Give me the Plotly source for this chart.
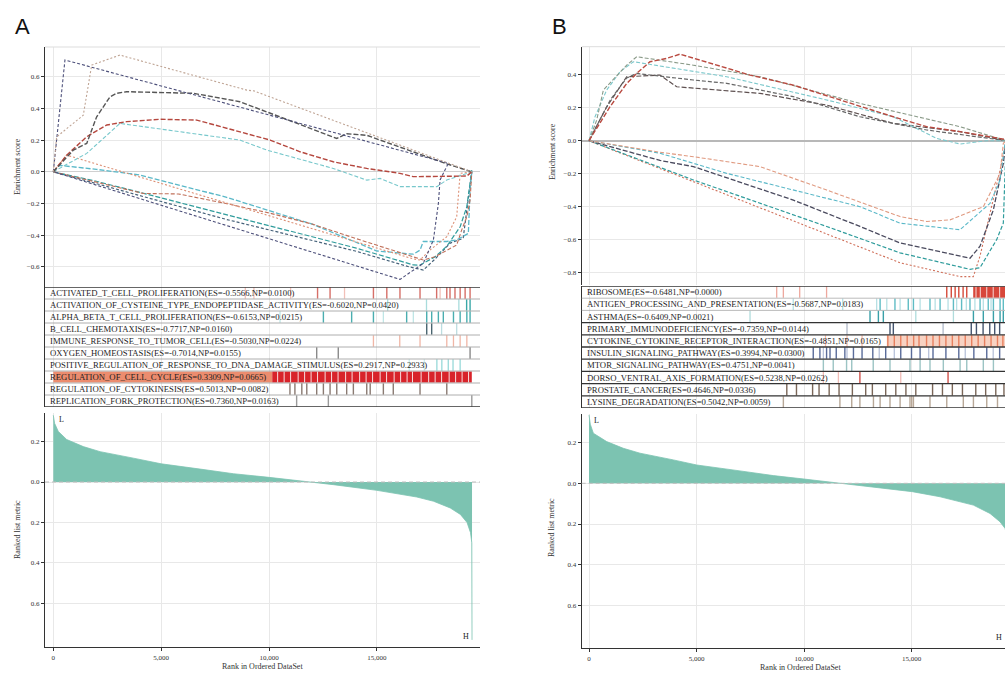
import plotly.graph_objects as go

W, H = 1005, 673
SERIF = "Liberation Serif"

# ---------------- Panel A : gene set labels ----------------
A_sets = [
    "ACTIVATED_T_CELL_PROLIFERATION(ES=-0.5566,NP=0.0100)",
    "ACTIVATION_OF_CYSTEINE_TYPE_ENDOPEPTIDASE_ACTIVITY(ES=-0.6020,NP=0.0420)",
    "ALPHA_BETA_T_CELL_PROLIFERATION(ES=-0.6153,NP=0.0215)",
    "B_CELL_CHEMOTAXIS(ES=-0.7717,NP=0.0160)",
    "IMMUNE_RESPONSE_TO_TUMOR_CELL(ES=-0.5030,NP=0.0224)",
    "OXYGEN_HOMEOSTASIS(ES=-0.7014,NP=0.0155)",
    "POSITIVE_REGULATION_OF_RESPONSE_TO_DNA_DAMAGE_STIMULUS(ES=0.2917,NP=0.2933)",
    "REGULATION_OF_CELL_CYCLE(ES=0.3309,NP=0.0665)",
    "REGULATION_OF_CYTOKINESIS(ES=0.5013,NP=0.0082)",
    "REPLICATION_FORK_PROTECTION(ES=0.7360,NP=0.0163)",
]

# ---------------- Panel A : running enrichment score curves ----------------
A_rep_x = [0, 155, 1390, 1780, 3090, 8970, 9300, 19400]
A_rep_y = [0, 0.22, 0.357, 0.673, 0.736, 0.515, 0.51, 0.0]
A_oxy_x = [0, 540, 18310, 17930, 17850, 17620, 17150, 16073, 0]
A_oxy_y = [0, 0.705, 0.053, -0.052, -0.2, -0.43, -0.578, -0.679, 0]
A_cyt_x = [0, 930, 1550, 2010, 2630, 2940, 3400, 6490, 8650, 13140, 13600, 14530, 18240, 19400]
A_cyt_y = [0, 0.137, 0.179, 0.347, 0.473, 0.495, 0.505, 0.495, 0.442, 0.21, 0.24, 0.23, 0.05, 0.0]
A_cc_x = [0, 620, 1550, 2480, 3400, 4950, 6650, 8350, 10050, 11440, 12980, 14530, 16070, 16690, 19170, 19400]
A_cc_y = [0, 0.105, 0.221, 0.295, 0.316, 0.331, 0.326, 0.263, 0.2, 0.126, 0.063, 0.021, -0.01, -0.031, -0.027, 0]
A_pos_x = [0, 1550, 3090, 4790, 8650, 9890, 12980, 14530, 15150, 16070, 16690, 17780, 18240, 19400]
A_pos_y = [0, 0.116, 0.305, 0.274, 0.2, 0.137, 0.021, -0.053, -0.042, -0.094, -0.094, -0.094, -0.052, 0]
A_act_x = [0, 620, 16690, 17000, 17460, 18240, 18700, 18860, 19400]
A_act_y = [0, 0.105, -0.55, -0.557, -0.494, -0.41, -0.284, -0.01, 0]
A_imm_x = [0, 2500, 4170, 5800, 8000, 10000, 12000, 14000, 15800, 16690, 17150, 17700, 18240, 18700, 18930, 19170, 19320, 19400]
A_imm_y = [0, -0.08, -0.137, -0.14, -0.2, -0.26, -0.33, -0.42, -0.5, -0.54, -0.557, -0.536, -0.494, -0.462, -0.368, -0.284, -0.18, 0]
A_alp_x = [0, 300, 2000, 4000, 8000, 12000, 15000, 16690, 17000, 17150, 18240, 18700, 19240, 19320, 19400]
A_alp_y = [0, 0.04, 0.015, -0.02, -0.16, -0.33, -0.5, -0.52, -0.494, -0.44, -0.44, -0.43, -0.389, -0.115, 0]
A_cys_x = [0, 2000, 6000, 10000, 14000, 16000, 16690, 17000, 17700, 18240, 18860, 19170, 19400]
A_cys_y = [0, -0.06, -0.2, -0.34, -0.48, -0.56, -0.588, -0.589, -0.536, -0.47, -0.347, -0.22, 0.01]
A_bce_x = [0, 8000, 14000, 16500, 17154, 17700, 18400, 19000, 19400]
A_bce_y = [0, -0.3, -0.5, -0.6, -0.62, -0.55, -0.45, -0.42, 0]

# ---------------- Panel A : hits ----------------
A_hit_strong = [
    [12250, 12830, 14840, 15460, 16070, 17000, 17770, 18240, 18390, 18620, 18860, 19090, 19320],
    [19160, 19320],
    [12520, 13830, 14840, 16380, 17310, 17540, 17850, 18080, 18550, 18860, 19170, 19320],
    [17310, 17540],
    [],
    [12210, 13210, 19320],
    [17780, 18010, 18310, 18530, 18860],
    [],
    [10970, 11200, 11520, 11750, 12210, 12520, 12830, 13140, 13600, 13910, 14530, 14690, 15300, 15760, 17000, 18240],
    [11280, 12750, 19400],
]
A_hit_faint = [
    [8900, 9300, 11000, 13500, 17930],
    [15500, 17300, 18800],
    [10510, 15300, 16690],
    [18000, 18700],
    [14840, 16060, 17000, 18240, 18550, 18860, 19170],
    [],
    [16500, 17200],
    [],
    [],
    [],
]
A_strong_col = ["#d66f68", "#3aa8a8", "#4aaeb0", "#4a6570", "#eda898", "#8a8a8a",
                "#9fdcdc", "#d7191c", "#8a7a72", "#9a9a9a"]
A_faint_col = ["#f2c0b8", "#a8dcdc", "#bfe6e6", "#bcdde0", "#f0b6a6", "#cccccc",
               "#cdeeee", "#d7191c", "#c8bcb6", "#cccccc"]
A_band_edges = [0, 10150, 19400]           # REGULATION_OF_CELL_CYCLE heat band
A_band_cols = ["#ec8c6e", "#d8232a"]
A_band_gaps = [10400, 10700, 11000, 11350, 11650, 11950, 12250, 12600, 12900, 13200, 13550,
               13850, 14200, 14500, 14800, 15150, 15450, 15800, 16100, 16400, 16650, 17050,
               17400, 17700, 18000, 18350, 18650, 18950, 19250]

# ---------------- Panel A : ranked list metric ----------------
A_rank = [0, 60, 230, 620, 1390, 2170, 3710, 5000, 6800, 8350, 10000, 12060, 12990, 15000,
          16850, 17630, 18400, 18870, 19180, 19340, 19400, 19410]
A_metric = [0.33, 0.29, 0.25, 0.21, 0.175, 0.15, 0.118, 0.09, 0.064, 0.041, 0.023, 0.0, -0.013,
            -0.041, -0.074, -0.095, -0.128, -0.16, -0.2, -0.25, -0.3, -0.78]

# ---------------- Panel B : gene set labels ----------------
B_sets = [
    "RIBOSOME(ES=-0.6481,NP=0.0000)",
    "ANTIGEN_PROCESSING_AND_PRESENTATION(ES=-0.5687,NP=0.0183)",
    "ASTHMA(ES=-0.6409,NP=0.0021)",
    "PRIMARY_IMMUNODEFICIENCY(ES=-0.7359,NP=0.0144)",
    "CYTOKINE_CYTOKINE_RECEPTOR_INTERACTION(ES=-0.4851,NP=0.0165)",
    "INSULIN_SIGNALING_PATHWAY(ES=0.3994,NP=0.0300)",
    "MTOR_SIGNALING_PATHWAY(ES=0.4751,NP=0.0041)",
    "DORSO_VENTRAL_AXIS_FORMATION(ES=0.5238,NP=0.0262)",
    "PROSTATE_CANCER(ES=0.4646,NP=0.0336)",
    "LYSINE_DEGRADATION(ES=0.5042,NP=0.0059)",
]

# ---------------- Panel B : running enrichment score curves ----------------
B_dor_x = [0, 977, 1752, 2217, 2837, 3612, 4233, 7488, 9503, 12605, 14155, 15705, 17256, 19349, 19400]
B_dor_y = [0, 0.206, 0.347, 0.408, 0.479, 0.499, 0.525, 0.398, 0.337, 0.206, 0.145, 0.085, 0.055, 0.008, 0]
B_mto_x = [0, 357, 667, 1752, 2217, 4853, 7953, 12605, 17256, 19400]
B_mto_y = [0, 0.125, 0.307, 0.458, 0.509, 0.458, 0.388, 0.226, 0.085, 0]
B_lys_x = [0, 279, 822, 1442, 2062, 6403, 11055, 14155, 16170, 17256, 18500, 19400]
B_lys_y = [0, 0.145, 0.307, 0.418, 0.479, 0.388, 0.247, 0.145, 0.014, -0.02, 0.0, 0]
B_pro_x = [0, 1000, 1752, 2217, 4853, 6403, 9503, 12605, 15705, 19400]
B_pro_y = [0, 0.25, 0.38, 0.408, 0.368, 0.348, 0.267, 0.145, 0.065, 0]
B_ins_x = [0, 800, 1752, 3302, 4078, 7953, 11055, 14155, 17256, 19400]
B_ins_y = [0, 0.2, 0.388, 0.398, 0.327, 0.287, 0.216, 0.105, 0.055, 0]
B_cyk_x = [0, 3302, 4853, 7953, 11055, 14465, 15705, 16791, 18341, 18806, 19116, 19271, 19400]
B_cyk_y = [0, -0.07, -0.097, -0.157, -0.299, -0.46, -0.49, -0.48, -0.4, -0.28, -0.2, -0.016, 0]
B_ant_x = [0, 3302, 6403, 9503, 12605, 14465, 17256, 18651, 19116, 19349, 19400]
B_ant_y = [0, -0.076, -0.198, -0.299, -0.4, -0.5, -0.54, -0.38, -0.24, -0.016, 0]
B_rib_x = [0, 3302, 4853, 9503, 12605, 14465, 17721, 18186, 18806, 19271, 19400]
B_rib_y = [0, -0.12, -0.157, -0.36, -0.52, -0.62, -0.713, -0.64, -0.42, -0.137, 0]
B_ast_x = [0, 4853, 11055, 14465, 17721, 18186, 18961, 19271, 19400]
B_ast_y = [0, -0.238, -0.52, -0.68, -0.78, -0.77, -0.6, -0.5, 0]
B_pri_x = [0, 14465, 17256, 17876, 18186, 18651, 19116, 19400]
B_pri_y = [0, -0.74, -0.824, -0.824, -0.7, -0.44, -0.18, 0]

# ---------------- Panel B : hits ----------------
B_hit_strong = [
    [16640, 16850, 17030, 17200, 17400, 17570],
    [13540, 14230, 14850, 15090, 15860, 16330, 16950, 17330, 17720, 18190, 18570, 18810, 19120, 19270],
    [13070, 13460, 13690, 17880, 18340, 18810, 19120, 19270],
    [14000, 14155, 17780, 18020, 18330, 18640, 18870, 19100],
    [13900, 14200, 14500, 14800, 15100, 15350, 15700, 16000, 16300, 16600, 16900, 17200,
     17500, 17800, 18100, 18400, 18700, 19000, 19250],
    [10430, 10740, 11050, 11210, 11500, 11900, 12300, 12700, 13200, 13800, 14500, 15000,
     15400, 16000, 16600, 17200, 17900, 18500, 19100],
    [10900, 11360, 11980, 12220, 13220, 14000, 14930, 15400, 15860, 16480, 17260, 17570, 18340, 18810],
    [12600, 16700],
    [9200, 9650, 10400, 10700, 11170, 11630, 12250, 12870, 13180, 13800, 14270, 14740, 15200,
     15980, 16440, 16900, 17370, 17990, 18450, 18920, 19300],
    [9040, 11670, 12220, 12600, 13230, 13540, 14000, 14470, 14930, 15010, 15090, 15860, 16640,
     17410, 17880, 18500, 19000],
]
B_hit_faint = [
    [8730, 9040, 9800, 11050],
    [9500, 11800, 13380, 13850, 14470, 15400, 16100, 16700, 17100, 17550, 17950, 18340, 18700],
    [7490, 15200, 16950],
    [12000, 16470],
    [11000, 12000, 12700],
    [10900, 12000, 13500, 14200, 15800, 17500, 18800],
    [],
    [10900, 11600, 14500],
    [],
    [],
]
B_strong_col = ["#d64a3a", "#5fbcc4", "#3aa0a8", "#44546e", "#e8805f", "#5a6c9a",
                "#9cc4c4", "#d0504a", "#7a6658", "#b8a898"]
B_faint_col = ["#eea89e", "#b6e0e4", "#b0dcdc", "#b0b8c8", "#f4bca8", "#b8c2da",
               "#cfe2e2", "#f0bcb6", "#c8bcb0", "#ddd4cc"]
B_rib_band = [17870, 19400]
B_rib_gaps = [18000, 18200, 18500, 18800, 19100]
B_cyk_band = [13850, 19350]

# ---------------- Panel B : ranked list metric ----------------
B_rank = [0, 60, 202, 822, 1597, 2372, 3922, 5008, 7023, 8574, 10000, 11675, 13225, 15039,
          16326, 17876, 18651, 19116, 19349, 19400]
B_metric = [0.336, 0.29, 0.246, 0.205, 0.172, 0.148, 0.115, 0.09, 0.061, 0.038, 0.021, 0.0,
            -0.02, -0.041, -0.066, -0.107, -0.148, -0.189, -0.221, -0.24]

X_TICKS = [0, 5000, 10000, 15000]
ES_A_TICKS = [-0.6, -0.4, -0.2, 0.0, 0.2, 0.4, 0.6]
ES_B_TICKS = [-0.8, -0.6, -0.4, -0.2, 0.0, 0.2, 0.4]
RL_TICKS = [0.2, 0.0, -0.2, -0.4, -0.6]
RL_TEXT = ["0.2", "0.0", "0.2", "0.4", "0.6"]

fig = go.Figure()


def curve(x, y, color, xa, ya, dash="4px,2px", width=1.3):
    fig.add_trace(go.Scatter(x=x, y=y, mode="lines", xaxis=xa, yaxis=ya,
                             line=dict(color=color, width=width, dash=dash),
                             hoverinfo="skip", showlegend=False))


def vlines(ranks, row, color, xa, ya, width=1.3):
    if not ranks:
        return
    xs, ys = [], []
    lo, hi = 9 - row, 10 - row
    for r in ranks:
        xs += [r, r, None]
        ys += [lo + 0.03, hi - 0.03, None]
    fig.add_trace(go.Scatter(x=xs, y=ys, mode="lines", xaxis=xa, yaxis=ya,
                             line=dict(color=color, width=width),
                             hoverinfo="skip", showlegend=False))


def band(x0, x1, row, color, xa, ya):
    lo, hi = 9 - row + 0.04, 10 - row - 0.04
    fig.add_trace(go.Scatter(x=[x0, x1, x1, x0, x0], y=[lo, lo, hi, hi, lo], mode="lines",
                             fill="toself", fillcolor=color, line=dict(width=0),
                             xaxis=xa, yaxis=ya, hoverinfo="skip", showlegend=False))


# ---- A curves ----
curve(A_bce_x, A_bce_y, "#46627a", "x", "y", "3px,2px", 1.2)
curve(A_cys_x, A_cys_y, "#2f9c9c", "x", "y", "5px,2px", 1.2)
curve(A_alp_x, A_alp_y, "#5ab8c8", "x", "y", "5px,2px", 1.3)
curve(A_imm_x, A_imm_y, "#c0705a", "x", "y", "4px,2px", 1.1)
curve(A_act_x, A_act_y, "#dc8f74", "x", "y", "2px,2px", 1.1)
curve(A_pos_x, A_pos_y, "#78c8cc", "x", "y", "4px,2px", 1.1)
curve(A_cc_x, A_cc_y, "#b5473e", "x", "y", "5px,2px", 1.4)
curve(A_cyt_x, A_cyt_y, "#555555", "x", "y", "5px,2px", 1.4)
curve(A_oxy_x, A_oxy_y, "#4c4f7a", "x", "y", "3px,2px", 1.1)
curve(A_rep_x, A_rep_y, "#bfa494", "x", "y", "2px,2px", 1.1)

# ---- A hits ----
for i in range(10):
    if i == 7:
        for k in range(len(A_band_cols)):
            band(A_band_edges[k], A_band_edges[k + 1], i, A_band_cols[k], "x", "y2")
        vlines(A_band_gaps, i, "rgba(255,255,255,0.85)", "x", "y2", 1.0)
    vlines(A_hit_faint[i], i, A_faint_col[i], "x", "y2", 1.3)
    vlines(A_hit_strong[i], i, A_strong_col[i], "x", "y2", 1.4)

# ---- A ranked metric ----
fig.add_trace(go.Scatter(x=A_rank, y=A_metric, mode="lines", fill="tozeroy",
                         fillcolor="#7cc3b1", line=dict(color="#7cc3b1", width=0.8),
                         xaxis="x", yaxis="y3", hoverinfo="skip", showlegend=False))

# ---- B curves ----
curve(B_pri_x, B_pri_y, "#d0705a", "x2", "y4", "2px,2px", 1.1)
curve(B_ast_x, B_ast_y, "#2f9c9c", "x2", "y4", "4px,2px", 1.2)
curve(B_rib_x, B_rib_y, "#4a4a5e", "x2", "y4", "5px,2px", 1.3)
curve(B_ant_x, B_ant_y, "#5ab8c8", "x2", "y4", "4px,2px", 1.1)
curve(B_cyk_x, B_cyk_y, "#e09a80", "x2", "y4", "4px,2px", 1.1)
curve(B_ins_x, B_ins_y, "#5e5050", "x2", "y4", "5px,2px", 1.2)
curve(B_pro_x, B_pro_y, "#666666", "x2", "y4", "4px,2px", 1.2)
curve(B_lys_x, B_lys_y, "#7cc8cc", "x2", "y4", "4px,2px", 1.1)
curve(B_mto_x, B_mto_y, "#8a9a88", "x2", "y4", "4px,2px", 1.1)
curve(B_dor_x, B_dor_y, "#b94a40", "x2", "y4", "5px,2px", 1.4)

# ---- B hits ----
for i in range(10):
    if i == 0:
        band(B_rib_band[0], B_rib_band[1], i, "#d8473a", "x2", "y5")
        vlines(B_rib_gaps, i, "rgba(255,255,255,0.8)", "x2", "y5", 1.0)
    if i == 4:
        band(B_cyk_band[0], B_cyk_band[1], i, "#f8d2c2", "x2", "y5")
    vlines(B_hit_faint[i], i, B_faint_col[i], "x2", "y5", 1.3)
    vlines(B_hit_strong[i], i, B_strong_col[i], "x2", "y5", 1.4)

# ---- B ranked metric ----
fig.add_trace(go.Scatter(x=B_rank, y=B_metric, mode="lines", fill="tozeroy",
                         fillcolor="#7cc3b1", line=dict(color="#7cc3b1", width=0.8),
                         xaxis="x2", yaxis="y6", hoverinfo="skip", showlegend=False))

tickfont = dict(family=SERIF, size=7, color="#333")
grid = "#e8e8e8"


def xax(dom, rng, anchor):
    return dict(domain=dom, range=rng, anchor=anchor, tickvals=X_TICKS, tickformat=",",
                showgrid=True, gridcolor=grid, zeroline=False, showline=True,
                linecolor="#333", linewidth=1.2, ticks="outside", ticklen=3,
                tickcolor="#333", tickfont=tickfont)


def yax(dom, rng, anchor, tv, tt=None, zl=False, zc="#d0d0d0", zw=1):
    d = dict(domain=dom, range=rng, anchor=anchor, tickvals=tv, tickformat=".1f",
             showgrid=True, gridcolor=grid, zeroline=zl, zerolinecolor=zc, zerolinewidth=zw,
             showline=True, linecolor="#333", linewidth=1.2, ticks="outside", ticklen=3,
             tickcolor="#333", tickfont=tickfont)
    if tt is not None:
        d["ticktext"] = tt
    return d


def hitax(dom, anchor):
    return dict(domain=dom, range=[0, 10], anchor=anchor, showgrid=False, zeroline=False,
                showticklabels=False, ticks="", showline=True, linecolor="#333", linewidth=1.2)


fig.update_layout(
    width=W, height=H, margin=dict(l=0, r=0, t=0, b=0),
    paper_bgcolor="white", plot_bgcolor="white",
    xaxis=xax([45 / W, 480 / W], [-385, 19780], "y3"),
    yaxis=yax([1 - 287 / H, 1 - 47 / H], [-0.727, 0.787], "x", ES_A_TICKS, zl=True),
    yaxis2=hitax([1 - 407 / H, 1 - 287 / H], "x"),
    yaxis3=yax([1 - 647 / H, 1 - 413 / H], [-0.815, 0.341], "x", RL_TICKS, RL_TEXT),
    xaxis2=xax([581.7 / W, 1.0], [-340, 19349], "y6"),
    yaxis4=yax([1 - 285 / H, 1 - 46.7 / H], [-0.875, 0.57], "x2", ES_B_TICKS, zl=True,
               zc="#b8b8b8", zw=1.5),
    yaxis5=hitax([1 - 408 / H, 1 - 286 / H], "x2"),
    yaxis6=yax([1 - 648 / H, 1 - 414 / H], [-0.809, 0.3405], "x2", RL_TICKS, RL_TEXT),
)

shapes = []
# light top border of the ES panels
for xr, yr in (("x domain", "y domain"), ("x2 domain", "y4 domain")):
    shapes.append(dict(type="line", xref=xr, yref=yr, x0=0, x1=1, y0=1, y1=1,
                       line=dict(color="#dddddd", width=1)))
# row separators, A
for k in range(11):
    dark = k in (0, 10)
    shapes.append(dict(type="line", xref="x domain", yref="y2", x0=0, x1=1, y0=k, y1=k,
                       line=dict(color="#333" if dark else "#9a9a9a", width=1.6 if dark else 0.8)))
# row separators, B (lower rows boxed dark)
for k in range(11):
    dark = k <= 7 or k == 10
    shapes.append(dict(type="line", xref="x2 domain", yref="y5", x0=0, x1=1, y0=k, y1=k,
                       line=dict(color="#333" if dark else "#aaaaaa", width=1.3 if dark else 0.8)))
# dashed zero lines in ranked panels
for xr, yr in (("x domain", "y3"), ("x2 domain", "y6")):
    shapes.append(dict(type="line", xref=xr, yref=yr, x0=0, x1=1, y0=0, y1=0,
                       line=dict(color="#bdbdbd", width=1, dash="4px,3px")))
fig.update_layout(shapes=shapes)

ann = []
lab_font = dict(family=SERIF, size=8.7, color="#1e1e1e")
for i, s in enumerate(A_sets):
    ann.append(dict(text=s, xref="paper", yref="y2", x=48 / W, y=9.5 - i, xanchor="left",
                    yanchor="middle", showarrow=False, font=lab_font))
for i, s in enumerate(B_sets):
    ann.append(dict(text=s, xref="paper", yref="y5", x=585 / W, y=9.5 - i, xanchor="left",
                    yanchor="middle", showarrow=False, font=lab_font))

title_font = dict(family=SERIF, size=8, color="#333")


def ptext(t, x, y, font, angle=0, xa="center"):
    ann.append(dict(text=t, xref="paper", yref="paper", x=x / W, y=1 - y / H, xanchor=xa,
                    yanchor="middle", showarrow=False, font=font, textangle=angle))


ptext("Enrichment score", 17, 167, title_font, -90)
ptext("Enrichment score", 553, 152, title_font, -90)
ptext("Ranked list metric", 17, 530, title_font, -90)
ptext("Ranked list metric", 551, 528, title_font, -90)
ptext("Rank in Ordered DataSet", 262, 666, title_font)
ptext("Rank in Ordered DataSet", 800, 667, title_font)
ptext("L", 61, 419, dict(family=SERIF, size=8, color="#222"))
ptext("H", 466, 636, dict(family=SERIF, size=8, color="#222"))
ptext("L", 596, 420, dict(family=SERIF, size=8, color="#222"))
ptext("H", 999, 637, dict(family=SERIF, size=8, color="#222"))
ptext("A", 22, 27, dict(family="Liberation Sans", size=22, color="#111"))
ptext("B", 559, 27, dict(family="Liberation Sans", size=22, color="#111"))
fig.update_layout(annotations=ann)

fig.write_html("out.html", config={"displayModeBar": False},
               post_script="document.body.style.margin='0';document.body.style.overflow='hidden';")
